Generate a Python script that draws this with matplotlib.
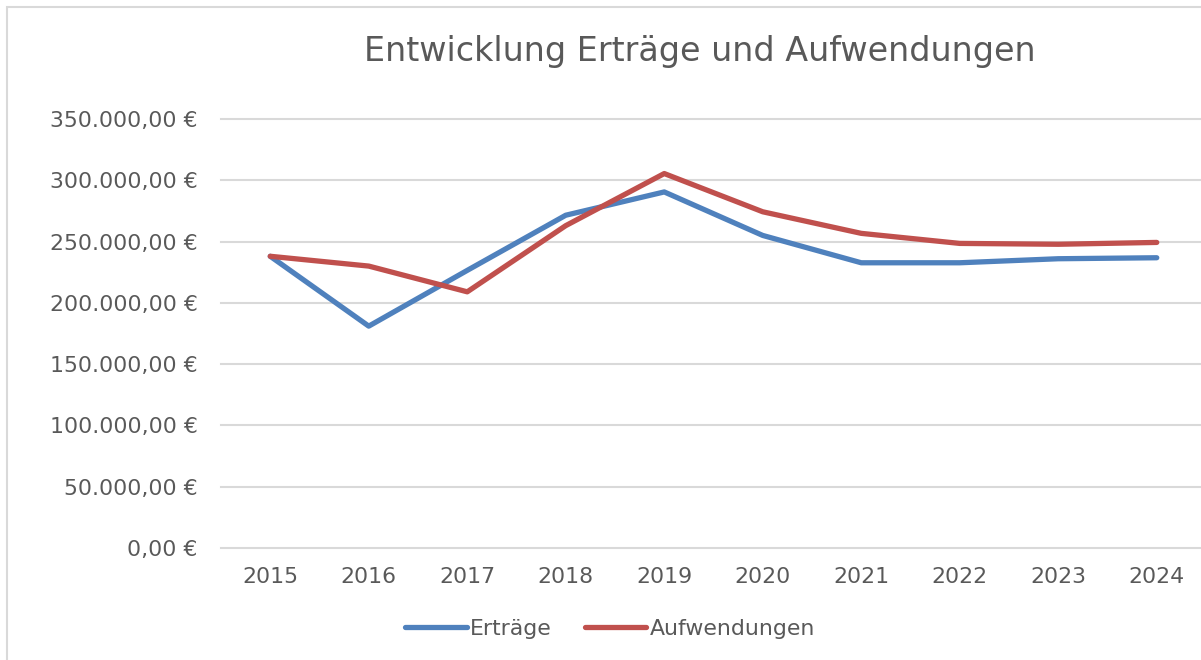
import matplotlib
matplotlib.use("Agg")
import matplotlib.pyplot as plt
from matplotlib.patches import Rectangle
from matplotlib.ticker import FuncFormatter

years = ["2015", "2016", "2017", "2018", "2019", "2020", "2021", "2022", "2023", "2024"]
ertraege = [238000, 181000, 226500, 271500, 290500, 255000, 232700, 232700, 236000, 236800]
aufwendungen = [238000, 230000, 209000, 263000, 305500, 274300, 256700, 248500, 247800, 249300]
yticks = [0, 50000, 100000, 150000, 200000, 250000, 300000, 350000]

plt.rcParams['font.family'] = ['DejaVu Sans']
W, H = 1201, 660
fig = plt.figure(figsize=(W / 100, H / 100), dpi=100)
fig.patches.append(Rectangle((7 / W, -0.1), 1.2, 1 - 7 / H + 0.1, transform=fig.transFigure,
                             fill=False, edgecolor='#D9D9D9', linewidth=1.5))

left, right = 221 / W, 1206 / W
bottom, top = 1 - 548 / H, 1 - 119 / H
ax = fig.add_axes([left, bottom, right - left, top - bottom])
x = list(range(len(years)))
ax.plot(x, ertraege, color='#4F81BD', linewidth=3.8, solid_capstyle='round', label='Erträge')
ax.plot(x, aufwendungen, color='#C0504D', linewidth=3.8, solid_capstyle='round', label='Aufwendungen')
ax.set_xlim(-0.5, len(years) - 0.5)
ax.set_ylim(0, 350000)
ax.set_yticks(yticks)
ax.yaxis.set_major_formatter(FuncFormatter(lambda v, p: f"{int(v):,}".replace(",", ".") + ",00 €"))
ax.set_xticks(x)
ax.set_xticklabels(years)
ax.grid(axis='y', color='#D9D9D9', linewidth=1.5)
for gl in ax.get_ygridlines():
    gl.set_clip_on(False)
ax.set_axisbelow(True)
for s in ax.spines.values():
    s.set_visible(False)
ax.tick_params(length=0, labelsize=15.8, labelcolor='#595959')
ax.tick_params(axis='y', pad=17)
ax.tick_params(axis='x', pad=14)

fig.text(700 / W, 1 - 52 / H, "Entwicklung Erträge und Aufwendungen", ha='center', va='center',
         fontsize=24, color='#595959')

leg = fig.legend(loc='center', bbox_to_anchor=(610 / W, 1 - 629 / H), ncol=2, frameon=False,
                 fontsize=15.8, handlelength=2.8, handletextpad=0.15, columnspacing=1.5)
for t in leg.get_texts():
    t.set_color('#595959')

fig.savefig("out.png", dpi=100)
